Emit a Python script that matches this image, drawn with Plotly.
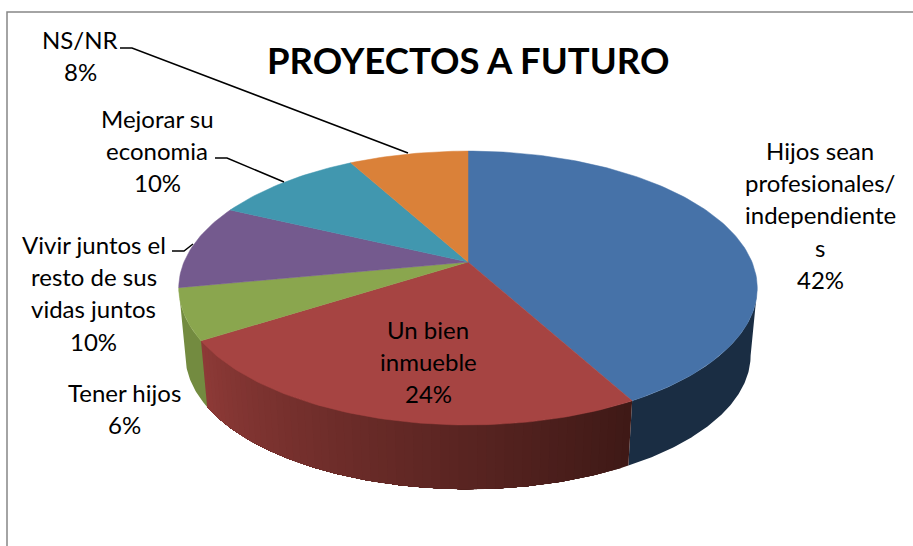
import numpy as np
import plotly.graph_objects as go

# --- data ---
categories = ["Hijos sean profesionales/independientes", "Un bien inmueble", "Tener hijos",
              "Vivir juntos el resto de sus vidas juntos", "Mejorar su economia", "NS/NR"]
values = [42, 24, 6, 10, 10, 8]
label_lines = [
    ["Hijos sean", "profesionales/", "independiente", "s", "42%"],
    ["Un bien", "inmueble", "24%"],
    ["Tener hijos", "6%"],
    ["Vivir juntos el", "resto de sus", "vidas juntos", "10%"],
    ["Mejorar su", "economia", "10%"],
    ["NS/NR", "8%"],
]
title_text = "PROYECTOS A FUTURO"

# --- style ---
top_colors = ["#4672A8", "#A64442", "#8AA64E", "#745A8E", "#4197AF", "#DA8139"]
wall_right = [(26, 45, 67), (62, 25, 22), (115, 139, 64), (90, 70, 110), (50, 115, 135), (170, 100, 45)]
wall_left = [(26, 45, 67), (142, 58, 55), (115, 139, 64), (90, 70, 110), (50, 115, 135), (170, 100, 45)]
label_pos = [(820, 150), (428, 329), (124, 392), (93.5, 244), (157, 118), (80, 39)]
LINE_STEP = 32.4
leaders = [
    ([120, 132, 408], [48, 48, 153]),
    ([215, 227, 284], [158, 158, 182]),
    ([172, 184, 193], [251, 251, 244]),
]
FONT = "Lato, Carlito, Calibri, sans-serif"

# --- projection of the pie disc ---
CX, CY = 468, 262
BX, AY, K = 284, 132, 0.19
CY_LOW, SCALE_LOW = 330, 0.977
VIS0 = float(np.degrees(np.arccos(-K)))
VIS1 = 360 - VIS0


def rim(theta_deg, low=False):
    t = np.radians(theta_deg)
    u, v = np.sin(t), np.cos(t)
    d = 1 + K * v
    x, y = BX * u / d, -AY * v / d
    if low:
        return CX + SCALE_LOW * x, CY_LOW + SCALE_LOW * y
    return CX + x, CY + y


fig = go.Figure()


def poly(xs, ys, color, lw=0.0):
    fig.add_trace(go.Scatter(x=list(xs), y=list(ys), mode="lines", fill="toself", fillcolor=color,
                             line=dict(color=color, width=lw), hoverinfo="skip", showlegend=False))


def wall(a0, a1, color):
    seg = np.linspace(a0, a1, max(int((a1 - a0) * 2), 3))
    xt, yt = rim(seg)
    xb, yb = rim(seg[::-1], low=True)
    poly(np.r_[xt, xb, xt[0]], np.r_[yt, yb, yt[0]], color)


edges = np.concatenate([[0], np.cumsum(values)]) * 3.6

# side walls (front half of the disc only); strips are painted left to right, each
# one reaching to the end of its slice so no seams show between them
for i in range(len(values)):
    a0, a1 = max(edges[i], VIS0), min(edges[i + 1], VIS1)
    if a1 <= a0:
        continue
    if wall_left[i] == wall_right[i]:
        c = wall_left[i]
        wall(a0, a1, f"rgb({c[0]},{c[1]},{c[2]})")
        continue
    n = max(int((a1 - a0) / 1.5), 1)
    steps = np.linspace(a0, a1, n + 1)
    for j in range(n):
        f = (j + 0.5) / n  # f = 0 at the right-hand end of the slice, 1 at the left-hand end
        c = [round(r + (l - r) * f) for r, l in zip(wall_right[i], wall_left[i])]
        wall(steps[j], a1, f"rgb({c[0]},{c[1]},{c[2]})")

# top faces
for i in range(len(values)):
    th = np.linspace(edges[i], edges[i + 1], max(int(values[i] * 3), 8))
    xt, yt = rim(th)
    poly(np.r_[CX, xt, CX], np.r_[CY, yt, CY], top_colors[i], 0.5)

# leader lines
for lx, ly in leaders:
    fig.add_trace(go.Scatter(x=lx, y=ly, mode="lines", line=dict(color="#000000", width=1.5),
                             hoverinfo="skip", showlegend=False))

# labels
for lines, (lx, ly) in zip(label_lines, label_pos):
    for n, line in enumerate(lines):
        fig.add_annotation(x=lx, y=ly + n * LINE_STEP, text=line, showarrow=False, xanchor="center",
                           yanchor="middle", align="center",
                           font=dict(family=FONT, size=24, color="#000000"))
fig.add_annotation(x=468, y=60, text=f"<b>{title_text}</b>", showarrow=False, xanchor="center",
                   yanchor="middle", font=dict(family=FONT, size=36.5, color="#000000"))

# chart frame
fig.add_shape(type="rect", x0=7, y0=12, x1=930, y1=570, xref="x", yref="y",
              line=dict(color="#868686", width=1.5), layer="below")

fig.update_xaxes(range=[0, 913], visible=False)
fig.update_yaxes(range=[546, 0], visible=False)
fig.update_layout(width=913, height=546, margin=dict(l=0, r=0, t=0, b=0), autosize=False,
                  paper_bgcolor="white", plot_bgcolor="white", showlegend=False)
fig.write_html("out.html", config={"displayModeBar": False},
               post_script="document.body.style.margin='0';document.body.style.overflow='hidden';")
